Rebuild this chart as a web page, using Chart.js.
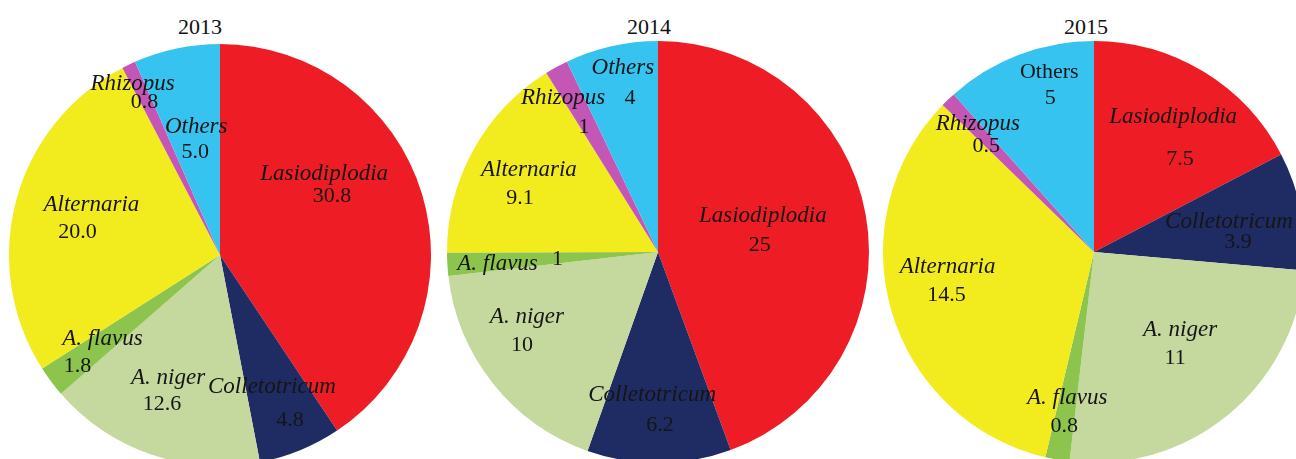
<!DOCTYPE html>
<html>
<head>
  <title>Fungal genera by year</title>
  <script src="https://cdn.jsdelivr.net/npm/chart.js"></script>
  <style>
    body { margin: 0; background: #fff; }
    #wrap { position: relative; width: 1296px; height: 459px; overflow: hidden; background: #fff; }
    .pie { position: absolute; width: 422px; height: 422px; }
    .title { position: absolute; top: 16px; width: 100px; text-align: center;
             font: 22px "Liberation Serif", "Times New Roman", serif; line-height: 22px; color: #111; }
  </style>
</head>
<body>
  <div id="wrap">
    <div class="title" style="left:150px">2013</div>
    <div class="title" style="left:599px">2014</div>
    <div class="title" style="left:1036px">2015</div>
    <div class="pie" style="left:9px; top:44px"><canvas id="pie2013" width="422" height="422"></canvas></div>
    <div class="pie" style="left:447px; top:41px"><canvas id="pie2014" width="422" height="422"></canvas></div>
    <div class="pie" style="left:883px; top:41px"><canvas id="pie2015" width="422" height="422"></canvas></div>
  </div>

  <script>
    // --- Data ---
    const categories = ['Lasiodiplodia', 'Colletotricum', 'A. niger', 'A. flavus', 'Alternaria', 'Rhizopus', 'Others'];
    const years = ['2013', '2014', '2015'];
    const values2013 = [30.8, 4.8, 12.6, 1.8, 20.0, 0.8, 5.0];
    const values2014 = [25, 6.2, 10, 1, 9.1, 1, 4];
    const values2015 = [7.5, 3.9, 11, 0.8, 14.5, 0.5, 5];
    const decimals = [1, null, null]; // 2013 printed with one decimal

    const colors = ['#EE1D25', '#1F2B63', '#C5D89D', '#8DC44E', '#F2EB1E', '#C457B6', '#37C3EF'];

    // --- Label placement: [radius fraction, angle shift (deg), line gap, value x offset] ---
    const labelPos2013 = [[0.61, -16, 22, 8], [0.76, 0, 33, 18], [0.695, 3, 26, -6], [0.77, 0, 27, -25],
                          [0.665, 0, 27, -14], [0.86, -1, 18, 12], [0.56, 0, 25, -1]];
    const labelPos2014 = [[0.50, -1.6, 29, -3], [0.75, 1, 30, 8], [0.735, 8, 28, -5], [0.62, -1, -5, 60],
                          [0.71, -2, 29, -9], [0.773, -2.4, 29, 21], [0.815, 2.2, 30, 7]];
    const labelPos2015 = [[0.667, 4.7, 42, 7], [0.668, 3, 20, 9], [0.59, -3, 28, -5], [0.77, 0, 29, -3],
                          [0.71, 5, 28, -1], [0.767, 0, 23, 8.5], [0.82, 6, 26, 1]];

    // --- Text inside slices ---
    const sliceLabels = {
      id: 'sliceLabels',
      afterDatasetsDraw(chart, args, opts) {
        const ctx = chart.ctx;
        const arcs = chart.getDatasetMeta(0).data;
        const vals = chart.data.datasets[0].data;
        ctx.save();
        ctx.fillStyle = '#151515';
        ctx.textAlign = 'center';
        ctx.textBaseline = 'middle';
        arcs.forEach((arc, i) => {
          const [frac, shift, gap, vdx] = opts.pos[i];
          const a = (arc.startAngle + arc.endAngle) / 2 + shift * Math.PI / 180;
          const x = arc.x + Math.cos(a) * arc.outerRadius * frac;
          const y = arc.y + Math.sin(a) * arc.outerRadius * frac;
          const name = chart.data.labels[i];
          const italic = !(opts.upright || []).includes(name);
          ctx.font = italic ? 'italic 23px "Liberation Serif", serif' : '22px "Liberation Serif", serif';
          ctx.fillText(name, x - vdx / 2, y - gap / 2);
          ctx.font = '22px "Liberation Serif", serif';
          const txt = opts.decimals == null ? String(vals[i]) : vals[i].toFixed(opts.decimals);
          ctx.fillText(txt, x + vdx / 2, y + gap / 2);
        });
        ctx.restore();
      }
    };

    function makePie(id, values, pos, dec, upright) {
      return new Chart(document.getElementById(id), {
        type: 'pie',
        data: {
          labels: categories,
          datasets: [{ data: values, backgroundColor: colors, borderWidth: 0, hoverOffset: 0 }]
        },
        options: {
          responsive: false,
          animation: false,
          layout: { padding: 0 },
          plugins: {
            legend: { display: false },
            tooltip: { enabled: false },
            sliceLabels: { pos: pos, decimals: dec, upright: upright }
          }
        },
        plugins: [sliceLabels]
      });
    }

    makePie('pie2013', values2013, labelPos2013, decimals[0], []);
    makePie('pie2014', values2014, labelPos2014, decimals[1], []);
    makePie('pie2015', values2015, labelPos2015, decimals[2], ['Others']);
  </script>
</body>
</html>
